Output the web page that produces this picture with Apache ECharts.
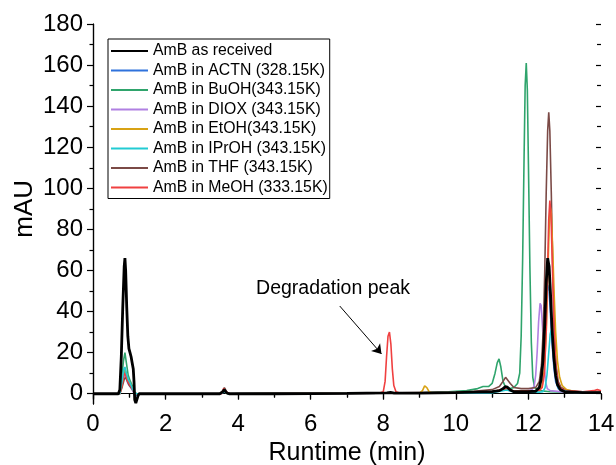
<!DOCTYPE html>
<html>
<head>
<meta charset="utf-8">
<script src="https://cdn.jsdelivr.net/npm/echarts@6/dist/echarts.min.js"></script>
<style>
html,body{margin:0;padding:0;background:#fff;}
#chart{width:616px;height:465px;}
</style>
</head>
<body>
<div id="chart"></div>
<script>
// ---------------- DATA ----------------
const seriesNames = [
  'AmB as received',
  'AmB in ACTN (328.15K)',
  'AmB in BuOH(343.15K)',
  'AmB in DIOX (343.15K)',
  'AmB in EtOH(343.15K)',
  'AmB in IPrOH (343.15K)',
  'AmB in THF (343.15K)',
  'AmB in MeOH (333.15K)'
];
const xTicks = [0, 14, 2];      // min, max, step (min)
const yTicks = [0, 180, 20];    // min, max, step (mAU)
const yFloor = -5;

const asReceived = [[0,0],[0.7,0],[0.74,2],[0.78,18],[0.82,42],[0.86,62],[0.88,66],[0.9,60],[0.93,42],[0.96,28],[0.99,22],[1.02,20],[1.05,18],[1.08,15],[1.11,12],[1.13,6],[1.15,-3],[1.18,-4.5],[1.21,-4.5],[1.24,-1],[1.27,0],[2,0],[3.5,0],[3.58,1],[3.62,2],[3.68,0.5],[3.75,0],[5,0],[7,0.2],[8.1,0.4],[8.2,0.6],[8.3,0.3],[9,0.3],[10,0.5],[10.5,0.8],[11,1],[11.2,1.5],[11.3,2.5],[11.36,3.4],[11.42,3.2],[11.5,1.8],[11.6,1],[12,1],[12.2,1.2],[12.3,3],[12.35,7],[12.4,16],[12.45,34],[12.49,54],[12.53,66],[12.57,62],[12.61,48],[12.65,32],[12.7,18],[12.75,9],[12.8,4.5],[12.88,2],[13,1],[13.5,0.5],[14,0.5]];
const inACTN = [[0,0],[0.72,0],[0.8,5],[0.86,11],[0.9,10],[0.96,6],[1.02,5],[1.08,3],[1.14,0.5],[1.18,-1],[1.24,0],[3.5,0],[3.62,1],[3.72,0],[8,0.2],[10,0.4],[11,0.8],[11.3,1.8],[11.4,2.5],[11.5,1.5],[12,1],[12.25,1.5],[12.3,3],[12.35,7],[12.4,14],[12.45,28],[12.49,45],[12.53,53],[12.57,50],[12.61,38],[12.65,25],[12.7,13],[12.75,6],[12.82,2.5],[12.9,1.5],[13.2,0.8],[14,0.5]];
const inBuOH = [[0,0],[0.72,0],[0.78,6],[0.84,16],[0.88,20],[0.92,15],[0.97,9],[1.03,6],[1.08,4],[1.13,1],[1.2,0],[3.5,0],[3.6,1.5],[3.7,0],[7,0.3],[9,0.5],[9.8,1],[10.3,1.5],[10.6,2.5],[10.75,3.5],[10.9,3.5],[11.0,5],[11.08,10],[11.14,15],[11.19,17],[11.24,13],[11.3,6],[11.36,3.5],[11.5,2.5],[11.6,3],[11.7,5],[11.76,10],[11.8,28],[11.84,65],[11.88,115],[11.91,150],[11.94,161],[11.97,148],[12.0,112],[12.04,62],[12.08,25],[12.12,8],[12.17,3],[12.3,1.5],[12.6,1],[13,0.8],[14,0.5]];
const inDIOX = [[0,0],[0.74,0],[0.8,4],[0.86,9],[0.9,8],[0.96,5],[1.04,3],[1.12,0.5],[1.2,0],[3.5,0],[3.62,1],[3.72,0],[8,0.2],[10,0.5],[11,0.8],[11.4,2],[11.6,1],[12.0,1.5],[12.1,2],[12.16,4],[12.2,9],[12.24,20],[12.28,35],[12.32,44],[12.35,43],[12.39,32],[12.43,16],[12.47,6],[12.52,2.5],[12.6,1.5],[13,0.8],[14,0.5]];
const inEtOH = [[0,0],[0.74,0],[0.8,5],[0.86,12],[0.9,11],[0.96,7],[1.03,5],[1.1,2],[1.16,0],[3.5,0],[3.6,1.5],[3.7,0],[8,0.2],[9.0,0.3],[9.08,1.5],[9.14,3.8],[9.2,3],[9.27,0.8],[9.35,0.3],[10,0.5],[11,1],[11.4,2.5],[11.6,1.2],[12.3,1.5],[12.38,4],[12.44,12],[12.49,30],[12.53,55],[12.57,80],[12.6,91],[12.63,88],[12.67,70],[12.71,48],[12.75,30],[12.8,16],[12.86,8],[12.93,4],[13.05,2],[13.3,1],[14,0.5]];
const inIPrOH = [[0,0],[0.74,0],[0.8,6],[0.85,12],[0.88,13],[0.92,10],[0.97,7],[1.03,5],[1.1,2],[1.16,0],[3.5,0],[3.62,1],[3.72,0],[8,0.2],[10,0.3],[11,0.5],[11.4,1.8],[11.6,0.8],[12.3,0.8],[12.4,1],[12.46,3],[12.51,9],[12.56,20],[12.6,29],[12.63,31],[12.67,25],[12.71,15],[12.76,7],[12.82,3],[12.9,1.5],[13.2,0.8],[14,0.5]];
const inTHF = [[0,0],[0.74,0],[0.8,3],[0.86,7],[0.9,8],[0.95,6],[1.0,4],[1.05,4],[1.1,2],[1.15,-1],[1.2,0],[3.5,0],[3.58,1.5],[3.62,3],[3.68,1],[3.75,0],[8,0.3],[10,0.8],[10.5,1.2],[11,2],[11.2,3.5],[11.3,6],[11.37,8],[11.42,8],[11.5,5],[11.6,3],[11.8,2.5],[12,2.5],[12.2,3],[12.3,6],[12.36,14],[12.41,32],[12.45,60],[12.49,98],[12.53,128],[12.56,137],[12.59,128],[12.63,98],[12.67,62],[12.71,32],[12.76,14],[12.82,6],[12.9,3],[13.1,1.5],[13.5,1],[14,0.8]];
const inMeOH = [[0,0],[0.74,0],[0.8,4],[0.86,10],[0.9,9],[0.96,6],[1.03,4],[1.1,2],[1.16,0],[3.55,0],[3.6,2.5],[3.64,3],[3.7,0.5],[3.78,0],[7.9,0.3],[8.0,1],[8.05,6],[8.09,18],[8.13,28],[8.17,30],[8.21,24],[8.25,12],[8.29,4],[8.35,1],[8.45,0.3],[10,0.5],[11,1],[11.4,2.5],[11.6,1.2],[12.3,1.5],[12.38,3],[12.44,10],[12.49,30],[12.53,62],[12.56,85],[12.59,94],[12.62,88],[12.66,62],[12.7,35],[12.75,15],[12.8,6],[12.87,3],[13,1.5],[13.5,1],[13.8,1.5],[13.9,2],[14,1.5]];

const annotText = 'Degradation peak';
const annotTextAt = [4.48, 51.2];
const arrowFrom = [6.8, 42.7];
const arrowTo = [7.95, 19.4];

// ---------------- STYLE / LAYOUT ----------------
const FONT = '"Liberation Sans", Arial, sans-serif';
const W = 616, H = 465;
const gLeft = 93, gRight = 15, gTop = 24, gBottom = 61;
const plotH = H - gTop - gBottom;
const tickBottom = gBottom + plotH * (yTicks[0] - yFloor) / (yTicks[1] - yFloor);

const seriesData = [asReceived, inACTN, inBuOH, inDIOX, inEtOH, inIPrOH, inTHF, inMeOH];
const colors = ['#000000', '#2f72dc', '#2fa46c', '#b080e2', '#d8a214', '#22cbd3', '#7b4a46', '#f04040'];
const widths = [2.8, 1.6, 1.6, 1.6, 1.6, 1.6, 1.6, 1.6];
const zs = [10, 2, 3, 4, 6, 8, 5, 7];

const chart = echarts.init(document.getElementById('chart'), null, {renderer: 'canvas'});

const series = seriesNames.map((name, i) => {
  const s = {
    name: name,
    type: 'line',
    xAxisIndex: 0,
    yAxisIndex: 0,
    data: seriesData[i],
    symbol: 'none',
    showSymbol: false,
    smooth: false,
    z: zs[i],
    lineStyle: {color: colors[i], width: widths[i]},
    itemStyle: {color: colors[i]},
    emphasis: {disabled: true},
    animation: false
  };
  if (name === 'AmB in MeOH (333.15K)') {
    s.markLine = {
      silent: true,
      animation: false,
      lineStyle: {color: '#000', width: 1, type: 'solid'},
      label: {show: false},
      emphasis: {disabled: true},
      data: [[
        {coord: arrowFrom, symbol: 'none'},
        {coord: arrowTo, symbol: 'arrow', symbolSize: 9}
      ]]
    };
    s.markPoint = {
      silent: true,
      animation: false,
      data: [{
        coord: annotTextAt,
        symbol: 'rect',
        symbolSize: 1,
        itemStyle: {color: 'rgba(0,0,0,0)'},
        label: {show: true, position: 'right', distance: 0, formatter: annotText,
                color: '#000', fontSize: 19.5, fontFamily: FONT}
      }]
    };
  }
  return s;
});

const blackLine = {show: true, lineStyle: {color: '#000', width: 1.2}};
const tickStyle = {color: '#000', width: 1.2};

const option = {
  backgroundColor: '#fff',
  animation: false,
  textStyle: {fontFamily: FONT},
  grid: [
    {left: gLeft, right: gRight, top: gTop, bottom: gBottom, containLabel: false, outerBoundsMode: 'none'},
    {left: gLeft, right: gRight, top: gTop, bottom: tickBottom, containLabel: false, outerBoundsMode: 'none'}
  ],
  legend: {
    orient: 'vertical',
    left: 108, top: 39,
    padding: [4, 2, 3, 2],
    itemWidth: 37, itemHeight: 12, itemGap: 3.5,
    borderColor: '#000', borderWidth: 1,
    backgroundColor: '#fff',
    selectedMode: false,
    itemStyle: {opacity: 0},
    textStyle: {fontSize: 15.8, color: '#000', fontFamily: FONT},
    data: seriesNames
  },
  xAxis: [
    {gridIndex: 0, type: 'value', min: xTicks[0], max: xTicks[1], interval: xTicks[2], position: 'bottom',
     axisLine: blackLine,
     axisTick: {show: true, inside: false, length: 6, lineStyle: tickStyle},
     minorTick: {show: true, splitNumber: 2, length: 3.5, lineStyle: tickStyle},
     axisLabel: {fontSize: 24, color: '#000', margin: 8, fontFamily: FONT},
     splitLine: {show: false}, minorSplitLine: {show: false},
     name: 'Runtime (min)', nameLocation: 'middle', nameGap: 34,
     nameTextStyle: {fontSize: 25, color: '#000', fontFamily: FONT}},
    {gridIndex: 0, type: 'value', min: xTicks[0], max: xTicks[1], interval: xTicks[2], position: 'top',
     axisLine: blackLine,
     axisTick: {show: true, inside: true, length: 5, lineStyle: tickStyle},
     minorTick: {show: true, splitNumber: 2, length: 4, lineStyle: tickStyle},
     axisLabel: {show: false}, splitLine: {show: false}},
    {gridIndex: 1, type: 'value', min: xTicks[0], max: xTicks[1], show: false, splitLine: {show: false}}
  ],
  yAxis: [
    {gridIndex: 0, type: 'value', min: yFloor, max: yTicks[1], position: 'left',
     axisLine: blackLine, axisTick: {show: false}, axisLabel: {show: false}, splitLine: {show: false}},
    {gridIndex: 0, type: 'value', min: yFloor, max: yTicks[1], position: 'right',
     axisLine: blackLine, axisTick: {show: false}, axisLabel: {show: false}, splitLine: {show: false}},
    {gridIndex: 1, type: 'value', min: yTicks[0], max: yTicks[1], interval: yTicks[2], position: 'left',
     axisLine: {show: false},
     axisTick: {show: true, inside: false, length: 6, lineStyle: tickStyle},
     minorTick: {show: true, splitNumber: 2, length: 3.5, lineStyle: tickStyle},
     axisLabel: {fontSize: 24, color: '#000', margin: 10, fontFamily: FONT},
     splitLine: {show: false}, minorSplitLine: {show: false},
     name: 'mAU', nameLocation: 'middle', nameGap: 55, nameMoveOverlap: false,
     nameTextStyle: {fontSize: 26, color: '#000', fontFamily: FONT}},
    {gridIndex: 1, type: 'value', min: yTicks[0], max: yTicks[1], interval: yTicks[2], position: 'right',
     axisLine: {show: false},
     axisTick: {show: true, inside: true, length: 5, lineStyle: tickStyle},
     minorTick: {show: true, splitNumber: 2, length: 4, lineStyle: tickStyle},
     axisLabel: {show: false}, splitLine: {show: false}}
  ],
  series: series
};
chart.setOption(option);
</script>
</body>
</html>
